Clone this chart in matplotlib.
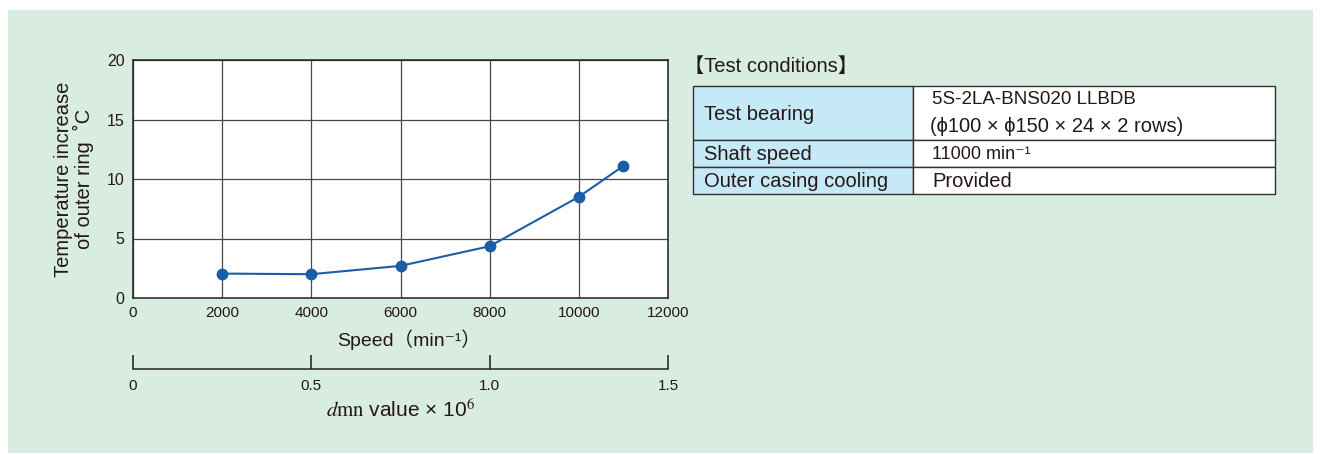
#!/usr/bin/env python3
"""Outer ring temperature rise vs. shaft speed, with test conditions table."""

import matplotlib.pyplot as plt
from matplotlib.patches import Rectangle

speed = [2000, 4000, 6000, 8000, 10000, 11000]
temp_rise = [2.05, 2.0, 2.7, 4.35, 8.5, 11.1]

speed_ticks = [0, 2000, 4000, 6000, 8000, 10000, 12000]
temp_ticks = [0, 5, 10, 15, 20]
dmn_ticks = [0, 0.5, 1.0, 1.5]
dmn_labels = ["0", "0.5", "1.0", "1.5"]

cond_names = ["Test bearing", "Shaft speed", "Outer casing cooling"]
cond_values = [
    "5S-2LA-BNS020 LLBDB\n(\u03d5100 \u00d7 \u03d5150 \u00d7 24 \u00d7 2 rows)",
    "11000 min\u207b\u00b9",
    "Provided",
]

PANEL = "#d8ece0"
CELL = "#c6e9f8"
LINE = "#1b5ea8"
INK = "#231815"
W, H = 1321, 454
JP = ["Liberation Sans", "Noto Sans CJK JP", "DejaVu Sans"]

plt.rcParams["font.family"] = JP
plt.rcParams["mathtext.fontset"] = "stix"

fig = plt.figure(figsize=(W / 100, H / 100), dpi=100)

# background panel and table live on a pixel-space axes
bg = fig.add_axes([0, 0, 1, 1], zorder=0)
bg.set_xlim(0, W)
bg.set_ylim(H, 0)
bg.axis("off")
bg.add_patch(Rectangle((8, 10), 1305, 443, color=PANEL, lw=0))

bg.text(684, 66, "\u3010Test conditions\u3011", fontsize=14.5,
        va="center", ha="left", color=INK)

row_edges = [86, 140, 167, 194]
x0, xs, x1 = 693, 913, 1275
value_sizes = [13.5, 13, 14.5]
for i, (name, value) in enumerate(zip(cond_names, cond_values)):
  top, bot = row_edges[i], row_edges[i + 1]
  bg.add_patch(Rectangle((x0, top), xs - x0, bot - top, facecolor=CELL,
                         edgecolor="#333333", lw=1.0))
  bg.add_patch(Rectangle((xs, top), x1 - xs, bot - top, facecolor="white",
                         edgecolor="#333333", lw=1.0))
  mid = (top + bot) / 2
  bg.text(x0 + 11, mid + 1, name, fontsize=14.5, va="center",
          ha="left", color=INK)
  if "\n" in value:
    first, second = value.split("\n")
    bg.text(xs + 19, top + 14, first, fontsize=13.5,
            va="center", ha="left", color=INK)
    bg.text(xs + 17, top + 41, second, fontsize=14.5,
            va="center", ha="left", color=INK)
  else:
    bg.text(xs + 19, mid + 1, value, fontsize=value_sizes[i],
            va="center", ha="left", color=INK)

# main chart
ax = fig.add_axes([133 / W, 1 - 298 / H, 535 / W, 238 / H], zorder=2)
ax.set_facecolor("white")
ax.plot(speed, temp_rise, color=LINE, lw=1.5, marker="o", ms=7.5,
        markerfacecolor=LINE, markeredgecolor=LINE, zorder=3)
ax.set_xlim(0, 12000)
ax.set_ylim(0, 20)
ax.set_xticks(speed_ticks)
ax.set_yticks(temp_ticks)
ax.set_xticklabels([str(v) for v in speed_ticks], fontsize=11)
ax.set_yticklabels([str(v) for v in temp_ticks], fontsize=11.5)
ax.tick_params(length=0, pad=6, colors=INK)
ax.grid(True, color="#4a4a4a", lw=0.9)
ax.set_axisbelow(True)
for s in ax.spines.values():
  s.set_color("#222222")
  s.set_linewidth(1.1)
ax.set_xlabel("Speed\uff08min\u207b\u00b9\uff09", fontsize=14,
              labelpad=7, color=INK)
ax.xaxis.set_label_coords(0.515, -0.13)
ax.set_ylabel("Temperature increase\nof outer ring  \u02daC",
              fontsize=14.5, labelpad=9, linespacing=1.05, color=INK)

# secondary dmn scale below the speed axis
ax2 = fig.add_axes([133 / W, 1 - 369 / H, 535 / W, 0.0001], zorder=2)
ax2.set_xlim(0, 1.5)
ax2.set_yticks([])
for side in ("top", "left", "right"):
  ax2.spines[side].set_visible(False)
ax2.spines["bottom"].set_color("#222222")
ax2.spines["bottom"].set_linewidth(1.1)
ax2.set_xticks(dmn_ticks)
ax2.set_xticklabels(dmn_labels, fontsize=11)
ax2.tick_params(axis="x", direction="in", length=10, width=1.1, pad=7,
                colors=INK)
ax2.set_xlabel(r"$d\mathrm{mn}$" + " value \u00d7 10" + r"$^{6}$",
               fontsize=15, labelpad=4, color=INK)

fig.savefig("out.png", dpi=100)
